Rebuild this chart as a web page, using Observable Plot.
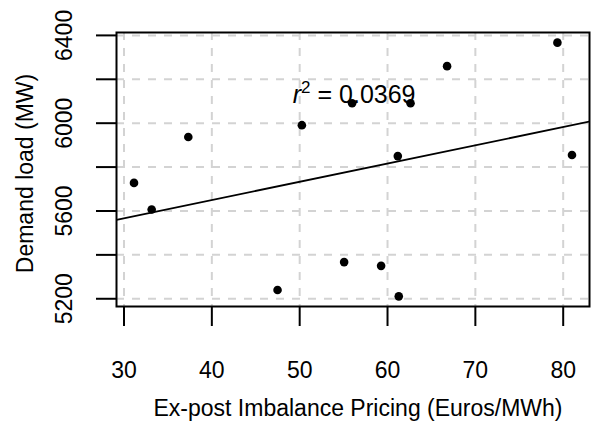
<!DOCTYPE html>
<html><head><meta charset="utf-8">
<script src="https://cdn.jsdelivr.net/npm/d3@7"></script>
<script src="https://cdn.jsdelivr.net/npm/@observablehq/plot@0.6"></script>
<style>body{margin:0;background:#fff}#chart svg{display:block}</style>
</head><body><div id="chart"></div>
<script>
// Data
const price  = [31.14, 33.15, 37.32, 47.48, 50.25, 55.06, 55.97, 59.27, 61.17, 61.28, 62.62, 66.78, 79.34, 81.0];
const demand = [5728, 5607, 5937, 5240, 5991, 5367, 6091, 5350, 5850, 5211, 6091, 6260, 6367, 5855];
const xTicks = [30, 40, 50, 60, 70, 80];
const yTicks = [5200, 5400, 5600, 5800, 6000, 6200, 6400];
const yTickLabels = [5200, 5600, 6000, 6400];
const xTitle = "Ex-post Imbalance Pricing (Euros/MWh)";
const yTitle = "Demand load (MW)";
const r2Value = "0.0369";
const r2At = [{x: 56.2, y: 6130}];

const data = price.map((p, i) => ({price: p, demand: demand[i]}));

// R-style 4% padded domains
function pad(v) { const [a, b] = d3.extent(v); const e = (b - a) * 0.04; return [a - e, b + e]; }
const xDom = pad(price), yDom = pad(demand);

// least squares fit, drawn across the whole frame (like abline)
const mx = d3.mean(price), my = d3.mean(demand);
const slope = d3.sum(data, d => (d.price - mx) * (d.demand - my)) / d3.sum(data, d => (d.price - mx) ** 2);
const icpt = my - slope * mx;
const fit = xDom.map(x => ({price: x, demand: icpt + slope * x}));

const FS = 23;
const grid = {stroke: "#d3d3d3", strokeOpacity: 1, strokeWidth: 2, strokeDasharray: "8,8"};

const chart = Plot.plot({
  width: 591, height: 421,
  marginLeft: 116, marginRight: 2, marginTop: 32, marginBottom: 115,
  style: {fontFamily: "'Liberation Sans', Arial, sans-serif", fontSize: FS + "px", background: "#fff", color: "black"},
  x: {domain: xDom},
  y: {domain: yDom},
  marks: [
    Plot.gridX(xTicks, grid),
    Plot.gridY(yTicks, grid),
    Plot.axisX(xTicks, {tickSize: 20, tickPadding: 35, strokeWidth: 2, fontSize: FS, label: null}),
    Plot.axisY(yTicks, {tickSize: 20, strokeWidth: 2, tickFormat: () => "", label: null}),
    Plot.text(yTickLabels, {y: d => d, text: d => String(d), frameAnchor: "left", dx: -52, rotate: -90, fontSize: FS, lineAnchor: "middle", textAnchor: "middle"}),
    Plot.text([yTitle], {frameAnchor: "left", dx: -91, dy: 4, rotate: -90, fontSize: FS, lineAnchor: "middle", textAnchor: "middle"}),
    Plot.text([xTitle], {frameAnchor: "bottom", dy: 109, dx: 5, fontSize: FS, lineAnchor: "bottom", textAnchor: "middle"}),
    Plot.line(fit, {x: "price", y: "demand", stroke: "black", strokeWidth: 1.8, clip: true}),
    Plot.dot(data, {x: "price", y: "demand", r: 4.3, fill: "black", stroke: null}),
    Plot.text(r2At, {x: "x", y: "y", text: () => "R2LABEL", fontSize: 25, lineAnchor: "middle", textAnchor: "middle"}),
    Plot.frame({stroke: "black", strokeWidth: 2})
  ]
});
document.getElementById("chart").appendChild(chart);

// rich text for r^2 label
d3.select(chart).selectAll("text").filter(function() { return this.textContent === "R2LABEL"; })
  .each(function() {
    const t = d3.select(this);
    t.text(null);
    t.append("tspan").attr("font-style", "italic").text("r");
    t.append("tspan").attr("font-size", "17px").attr("dy", "-10").text("2");
    t.append("tspan").attr("dy", "10").text(" = " + r2Value);
  });
</script>
</body></html>
